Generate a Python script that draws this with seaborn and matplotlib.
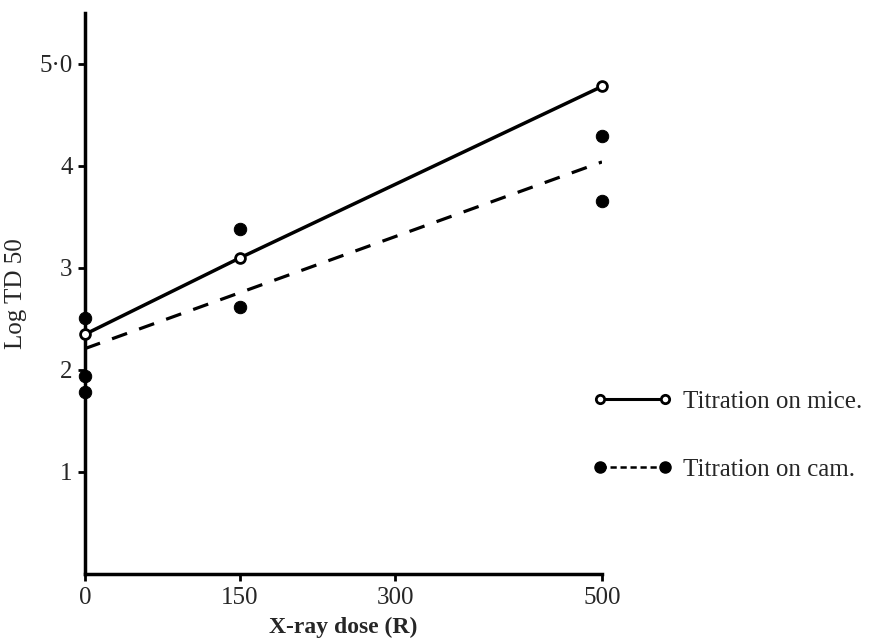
import numpy as np
import pandas as pd
from matplotlib import pyplot as plt
from matplotlib.lines import Line2D
import seaborn as sns

# X-ray dose (R) and log TD50
mice_dose = [0, 150, 500]
mice_logtd = [2.35, 3.10, 4.78]

cam_dose = [0, 0, 0, 150, 150, 500, 500]
cam_logtd = [2.51, 1.94, 1.78, 3.38, 2.62, 4.29, 3.66]

cam_fit_dose = [0, 500]
cam_fit_logtd = [2.21, 4.04]

x_ticks = [0, 150, 300, 500]
y_ticks = [1, 2, 3, 4, 5]
y_ticklabels = ['1', '2', '3', '4', '5\u00b70']

legend_labels = ['Titration on mice.', 'Titration on cam.']

sns.set_style('ticks')
plt.rcParams['font.family'] = ['Liberation Serif', 'DejaVu Serif']

mice = pd.DataFrame({'dose': mice_dose, 'logtd': mice_logtd})
cam = pd.DataFrame({'dose': cam_dose, 'logtd': cam_logtd})
fit = pd.DataFrame({'dose': cam_fit_dose, 'logtd': cam_fit_logtd})

fig = plt.figure(figsize=(8.72, 6.39), dpi=100)
ax = fig.add_axes([85 / 872, 1 - 574 / 639, (602 - 85) / 872, (574 - 13) / 639])

sns.lineplot(data=fit, x='dose', y='logtd', ax=ax, color='black',
             linewidth=2.3, linestyle=(0, (5, 4)))
sns.lineplot(data=mice, x='dose', y='logtd', ax=ax, color='black',
             linewidth=2.5)
sns.scatterplot(data=mice, x='dose', y='logtd', ax=ax, s=50, marker='o',
                facecolor='white', edgecolor='black', linewidth=2, zorder=5,
                clip_on=False)
sns.scatterplot(data=cam, x='dose', y='logtd', ax=ax, s=80, marker='o',
                color='black', edgecolor='black', zorder=5, clip_on=False)

ax.set_xlim(0, 500)
ax.set_ylim(0, 5.5)
ax.set_xticks(x_ticks)
ax.set_xticklabels([str(t) for t in x_ticks])
ax.set_yticks(y_ticks)
ax.set_yticklabels(y_ticklabels)
ax.tick_params(axis='both', labelsize=18, length=5, width=2, color='black',
               pad=4)
for side in ('left', 'bottom'):
    ax.spines[side].set_linewidth(2.5)
    ax.spines[side].set_color('black')
sns.despine(ax=ax)

ax.set_xlabel('X-ray dose (R)', fontsize=17, fontweight='bold', labelpad=6)
ax.set_ylabel('Log TD 50', fontsize=18, labelpad=9)

handles = [
    Line2D([0], [0], color='black', linewidth=2.2, marker='o', markersize=6,
           markerfacecolor='white', markeredgewidth=2),
    Line2D([0], [0], color='black', linewidth=1.8, linestyle=(0, (2.5, 1.5)),
           marker='o', markersize=8, markerfacecolor='black'),
]
leg = fig.legend(handles, legend_labels, loc='upper left',
                 bbox_to_anchor=(570 / 872, 1 - 368 / 639), frameon=False,
                 fontsize=18, handlelength=3.2, handletextpad=0.4,
                 labelspacing=1.8, numpoints=2)

fig.savefig('out.png', dpi=100)
